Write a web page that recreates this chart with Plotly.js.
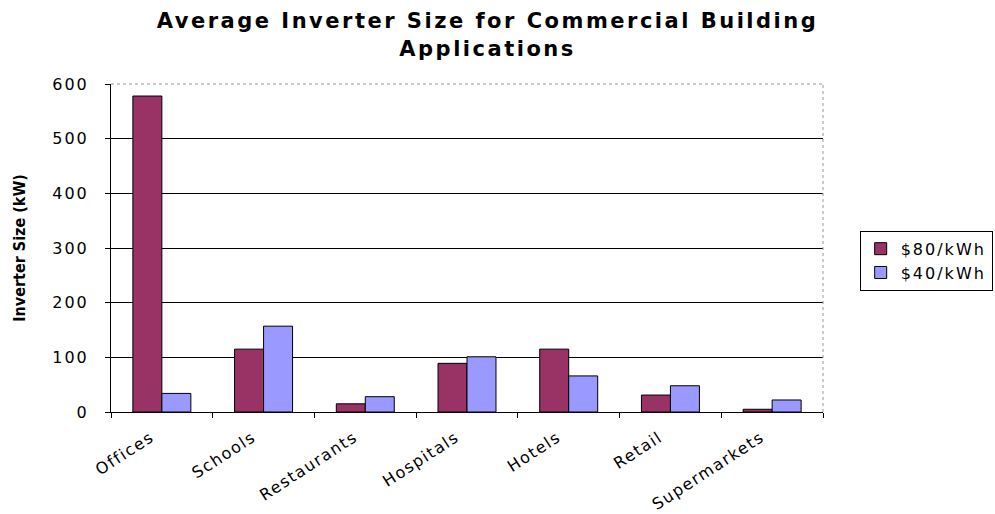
<!DOCTYPE html>
<html>
<head>
<meta charset="utf-8">
<script src="https://cdn.plot.ly/plotly-3.0.1.min.js"></script>
<style>
html,body{margin:0;padding:0;background:#fff;}
#chart{width:995px;height:514px;}
.ytick text { letter-spacing: 2px; }
.xtick text { letter-spacing: 1.5px; }
.legendtext { letter-spacing: 2px; }
.gtitle { letter-spacing: 2.5px; }
</style>
</head>
<body>
<div id="chart"></div>
<script>
const categories = ["Offices", "Schools", "Restaurants", "Hospitals", "Hotels", "Retail", "Supermarkets"];
const series80Name = "$80/kWh";
const series80 = [578, 115, 15, 89, 115, 31, 5];
const series40Name = "$40/kWh";
const series40 = [34, 157, 28, 101, 66, 48, 22];
const yTicks = [0, 100, 200, 300, 400, 500, 600];

const baseFont = "DejaVu Sans, Verdana, sans-serif";

const traces = [
  {type: "bar", name: series80Name, x: categories, y: series80,
   marker: {color: "#993366", line: {color: "#000", width: 1}}},
  {type: "bar", name: series40Name, x: categories, y: series40,
   marker: {color: "#9999FF", line: {color: "#000", width: 1}}}
];

const layout = {
  width: 995, height: 514,
  margin: {l: 111, r: 172, t: 84, b: 102},
  paper_bgcolor: "#fff", plot_bgcolor: "#fff",
  barmode: "group", bargap: 0.43, bargroupgap: 0,
  font: {family: baseFont, size: 16, color: "#000"},
  title: {
    text: "Average Inverter Size for Commercial Building<br>Applications",
    font: {family: baseFont, size: 21, color: "#000", weight: "bold"},
    xref: "container", yref: "container",
    x: 0.49, xanchor: "center", y: 0.945, yanchor: "top"
  },
  xaxis: {
    type: "category", tickangle: -33, tickson: "boundaries",
    ticks: "outside", ticklen: 5, tickcolor: "#000",
    showline: true, linecolor: "#000", linewidth: 1,
    showgrid: false, tickfont: {size: 16, color: "#000"},
    ticklabelshift: -11, ticklabelstandoff: 9, automargin: false
  },
  yaxis: {
    range: [0, 600], tickvals: yTicks, ticktext: yTicks.map(String),
    ticks: "outside", ticklen: 5, tickcolor: "#000",
    showline: true, linecolor: "#000", linewidth: 1,
    showgrid: true, gridcolor: "#000", gridwidth: 1, zeroline: false,
    ticklabelstandoff: 13, automargin: false,
    tickfont: {size: 16, color: "#000"},
    title: {text: "Inverter Size (kW)", standoff: 22,
            font: {family: "Liberation Sans Narrow, Arial Narrow, DejaVu Sans Condensed, sans-serif", size: 16, color: "#000", weight: "bold"}}
  },
  legend: {
    xref: "container", yref: "container",
    x: 0.864, xanchor: "left", y: 0.551, yanchor: "top",
    bordercolor: "#000", borderwidth: 1, bgcolor: "#fff",
    font: {size: 16, color: "#000"}, itemwidth: 30
  },
  shapes: [
    {type: "line", xref: "paper", yref: "paper", x0: 0, x1: 1, y0: 1, y1: 1,
     line: {color: "#fff", width: 2}},
    {type: "line", xref: "paper", yref: "paper", x0: 0, x1: 1, y0: 1, y1: 1,
     line: {color: "#999", width: 1, dash: "dot"}},
    {type: "line", xref: "paper", yref: "paper", x0: 1, x1: 1, y0: 0, y1: 1,
     line: {color: "#999", width: 1, dash: "dot"}}
  ],
  showlegend: true
};

Plotly.newPlot("chart", traces, layout, {displayModeBar: false, staticPlot: true});
</script>
</body>
</html>
